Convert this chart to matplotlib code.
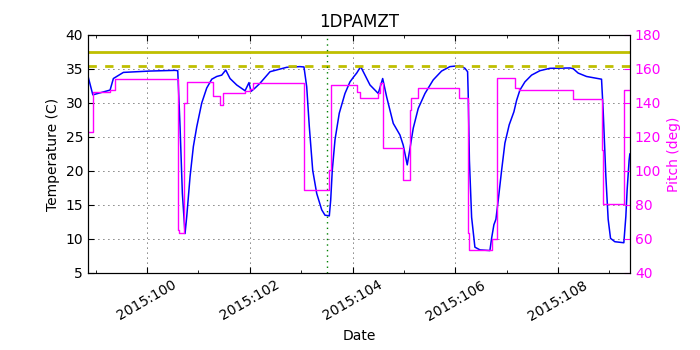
import matplotlib
matplotlib.use("Agg")
import matplotlib.pyplot as plt
from matplotlib.ticker import MultipleLocator

# Model temperature (day of year 2015, deg C)
temp_days = [98.852, 98.944, 99.280, 99.344, 99.539, 100.058, 100.545, 100.597,
             100.642, 100.687, 100.739, 100.772, 100.837, 100.901, 100.967, 101.064,
             101.161, 101.259, 101.356, 101.453, 101.531, 101.615, 101.745, 101.907,
             101.984, 102.023, 102.101, 102.198, 102.393, 102.718, 102.977, 103.054,
             103.107, 103.158, 103.224, 103.302, 103.399, 103.463, 103.547, 103.574,
             103.605, 103.658, 103.741, 103.852, 103.949, 104.027, 104.080, 104.158,
             104.339, 104.500, 104.586, 104.663, 104.792, 104.922, 104.986, 105.064,
             105.117, 105.181, 105.278, 105.409, 105.570, 105.733, 105.895, 106.089,
             106.187, 106.239, 106.251, 106.274, 106.317, 106.381, 106.479, 106.673,
             106.706, 106.751, 106.790, 106.835, 106.901, 106.965, 107.049, 107.140,
             107.193, 107.257, 107.354, 107.484, 107.646, 107.840, 108.230, 108.294,
             108.391, 108.554, 108.846, 108.877, 108.930, 108.975, 109.021, 109.105,
             109.280, 109.319, 109.344, 109.383, 109.397]
temp_vals = [33.9, 31.2, 31.9, 33.6, 34.5, 34.7, 34.8, 34.75,
             26.5, 16.7, 10.8, 13.3, 19.2, 23.6, 26.5, 30.0,
             32.2, 33.5, 33.9, 34.1, 34.85, 33.6, 32.65, 31.8,
             33.0, 31.7, 32.2, 32.9, 34.6, 35.25, 35.35, 35.3,
             32.4, 26.5, 20.1, 16.7, 14.3, 13.5, 13.4, 15.7,
             20.1, 24.6, 28.5, 31.4, 33.1, 33.9, 34.4, 35.35,
             32.65, 31.4, 33.6, 30.9, 27.0, 25.3, 23.8, 20.9,
             23.3, 26.3, 29.2, 31.4, 33.4, 34.7, 35.35, 35.5,
             35.1, 34.6, 31.2, 21.6, 13.2, 8.8, 8.4, 8.3,
             10.1, 12.1, 12.9, 15.7, 20.1, 24.1, 26.8, 28.7,
             30.4, 31.9, 33.1, 34.1, 34.75, 35.1, 35.15, 35.05,
             34.4, 33.9, 33.5, 29.0, 19.2, 12.9, 10.1, 9.6,
             9.45, 13.3, 17.2, 21.6, 22.5]

# Pitch (step changes, deg)
pitch_days = [98.852, 98.955, 99.280, 99.377, 100.603, 100.630, 100.720, 100.768,
              101.290, 101.420, 101.472, 101.907, 102.004, 102.068, 103.064, 103.547,
              103.574, 104.080, 104.144, 104.500, 104.533, 104.591, 104.975, 105.109,
              105.136, 105.266, 106.076, 106.245, 106.265, 106.706, 106.803, 106.815,
              107.160, 107.243, 108.294, 108.846, 108.866, 109.286, 109.397]
pitch_vals = [123.1, 146.6, 147.6, 153.9, 65.3, 63.3, 139.8, 152.5,
              144.1, 138.8, 145.7, 147.1, 148.5, 152.0, 88.8, 100.6,
              150.6, 146.6, 142.7, 145.7, 151.5, 113.3, 94.7, 135.9,
              142.7, 148.6, 143.2, 63.3, 53.5, 59.8, 139.8, 154.5,
              148.6, 147.6, 142.2, 112.4, 80.6, 147.6, 147.6]

planning_limit = 37.5
yellow_limit = 35.4
now_day = 103.5

tick_days = [100, 102, 104, 106, 108]
tick_labels = ["2015:100", "2015:102", "2015:104", "2015:106", "2015:108"]

plt.rcParams.update({
    "font.family": "DejaVu Sans",
    "font.size": 10,
    "xtick.direction": "in",
    "ytick.direction": "in",
    "xtick.top": True,
    "xtick.major.size": 4,
    "xtick.minor.size": 2,
    "ytick.major.size": 4,
    "ytick.minor.size": 2,
})

fig = plt.figure(figsize=(7, 3.5), dpi=100)
ax = fig.add_axes([0.1257, 0.22, 0.9 - 0.1257, 0.68])

ax.plot(temp_days, temp_vals, color="b", linewidth=1.1)
ax.axhline(planning_limit, color="y", linewidth=2)
ax.axhline(yellow_limit, color="y", linewidth=2, linestyle=(0, (3, 3)))
ax.axvline(now_day, color="g", linewidth=1.0, linestyle=(0, (1, 3)))

ax.set_xlim(98.85, 109.40)
ax.set_ylim(5, 40)
ax.set_xticks(tick_days)
ax.set_xticklabels(tick_labels, rotation=30, ha="center")
ax.xaxis.set_minor_locator(MultipleLocator(1))
ax.set_yticks(range(5, 41, 5))
ax.grid(True, color="k", linestyle=(0, (1, 5)), linewidth=0.6)
ax.set_xlabel("Date")
ax.set_ylabel("Temperature (C)")
ax.set_title("1DPAMZT", fontsize=12)

ax2 = ax.twinx()
ax2.plot(pitch_days, pitch_vals, color="#ff00ff", linewidth=1.0, drawstyle="steps-post")
ax2.set_ylim(40, 180)
ax2.set_yticks(range(40, 181, 20))
ax2.tick_params(axis="y", colors="#ff00ff", direction="in")
ax2.spines["right"].set_color("k")
ax2.set_ylabel("Pitch (deg)", color="#ff00ff")
ax2.set_xlim(98.85, 109.40)

fig.savefig("out.png", dpi=100, facecolor="white")
